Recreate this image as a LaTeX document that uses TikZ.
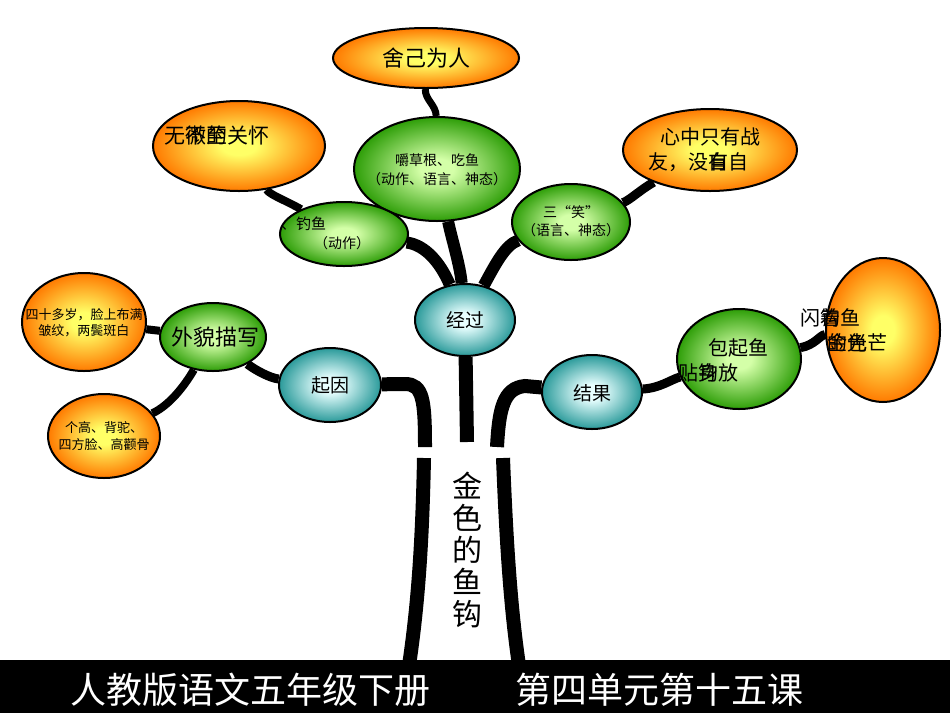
\documentclass[tikz,border=0pt]{standalone}
\usepackage{fontspec}
\newfontfamily\cjk{Noto Sans CJK SC}
\usetikzlibrary{shapes.geometric}
\pgfdeclarelayer{background}
\pgfsetlayers{background,main}
\definecolor{orIn}{HTML}{FFFF66}
\definecolor{orOut}{HTML}{FF7A00}
\definecolor{grIn}{HTML}{D4FFA8}
\definecolor{grOut}{HTML}{2E9E08}
\definecolor{tlIn}{HTML}{E8FFFF}
\definecolor{tlOut}{HTML}{2A9A9A}
\pgfdeclareradialshading{orsh}{\pgfpoint{0bp}{0bp}}{color(0bp)=(orIn); color(5bp)=(orIn); color(25bp)=(orOut); color(50bp)=(orOut)}
\pgfdeclareradialshading{grsh}{\pgfpoint{0bp}{0bp}}{color(0bp)=(grIn); color(5bp)=(grIn); color(25bp)=(grOut); color(50bp)=(grOut)}
\pgfdeclareradialshading{tlsh}{\pgfpoint{0bp}{0bp}}{color(0bp)=(tlIn); color(5bp)=(tlIn); color(25bp)=(tlOut); color(50bp)=(tlOut)}
\newcommand\olap[2]{\makebox[0pt][l]{#1}#2}
\tikzset{
  oval/.style={ellipse, draw=black, line width=2pt, inner sep=0pt},
  orn/.style={oval, shade, shading=orsh},
  grn/.style={oval, shade, shading=grsh},
  tel/.style={oval, shade, shading=tlsh},
  twig/.style={draw=black, line width=9pt},
  limb/.style={draw=black, line width=14pt},
  lbl/.style args={#1/#2}{inner sep=0pt, align=center, font={\cjk\fontsize{#1}{#2}\selectfont}},
}
\begin{document}
\begin{tikzpicture}[x=1pt,y=-1pt]
\useasboundingbox (0,0) rectangle (950,713);
\begin{pgfonlayer}{background}
\fill[white] (0,0) rectangle (950,713);
\end{pgfonlayer}

% ellipses
\node[orn, minimum width=186pt, minimum height=60pt] (sj) at (426,58) {};
\node[grn, minimum width=166pt, minimum height=104pt] (jc) at (437,169) {};
\node[orn, minimum width=172pt, minimum height=90pt] (wh) at (239,146) {};
\node[grn, minimum width=128pt, minimum height=64pt] (dy) at (344,234) {};
\node[grn, minimum width=118pt, minimum height=76pt] (sx) at (571,222) {};
\node[orn, minimum width=174pt, minimum height=82pt] (xz) at (710,150) {};
\node[tel, minimum width=100pt, minimum height=72pt] (jgo) at (465,320) {};
\node[tel, minimum width=102pt, minimum height=74pt] (qy) at (330,385) {};
\node[tel, minimum width=100pt, minimum height=74pt] (jg) at (592,392) {};
\node[grn, minimum width=106pt, minimum height=68pt] (wm) at (213,337) {};
\node[orn, minimum width=124pt, minimum height=98pt] (ss) at (84,322) {};
\node[orn, minimum width=112pt, minimum height=84pt] (gg) at (104,436) {};
\node[grn, minimum width=124pt, minimum height=100pt] (bq) at (739,359) {};
\node[orn, minimum width=114pt, minimum height=144pt] (sg) at (883,330) {};

% connector end points
\coordinate (qyend) at (425,447);
\coordinate (jgend) at (497,447);
\coordinate (jgoend) at (467,442);
\coordinate (ltop) at (424,458);
\coordinate (lbot) at (408,672);
\coordinate (rtop) at (503,458);
\coordinate (rbot) at (520,672);

\begin{pgfonlayer}{background}
\draw[twig, line width=7pt] (sj) .. controls (425,100) and (436,105) .. (jc);
\draw[twig, line width=8pt] (wh) .. controls (270,195) and (285,200) .. (dy);
\draw[twig, line width=12pt] (dy) .. controls (425,245) and (440,262) .. (jgo);
\draw[twig, line width=12pt] (jc) .. controls (452,240) and (460,265) .. (jgo);
\draw[twig, line width=12pt] (sx) .. controls (505,245) and (495,265) .. (jgo);
\draw[twig] (sx) .. controls (630,200) and (640,190) .. (xz);
\draw[twig, line width=8pt] (wm) -- (ss);
\draw[twig, line width=8pt] (wm) .. controls (185,385) and (170,405) .. (gg);
\draw[twig] (wm) .. controls (255,370) and (270,378) .. (qy);
\draw[twig] (jg) .. controls (660,388) and (670,380) .. (bq);
\draw[twig] (bq) .. controls (815,345) and (820,335) .. (sg);
\draw[limb] (qy) -- (405,384) .. controls (423,384) and (425,400) .. (qyend);
\draw[limb] (jg) -- (525,386) .. controls (503,388) and (499,410) .. (jgend);
\draw[limb] (jgo) -- (jgoend);
\draw[limb] (ltop) .. controls (422,560) and (416,620) .. (lbot);
\draw[limb] (rtop) .. controls (507,560) and (512,620) .. (rbot);
\end{pgfonlayer}

% texts
\node[lbl=22/27] (sj-t) at (426,58) {舍己为人};
\node[lbl=14/19] (jc-t) at (437,170) {嚼草根、吃鱼\\（动作、语言、神态）};
\node[lbl=21/25] (wh-t) at (217,135) {无\olap{不}{微}\olap{至}{的}关怀};
\node[lbl=15/18, anchor=west] (dy-t) at (281,224) {、钓鱼};
\node[lbl=14/18] (dy-t2) at (342,243) {（动作）};
\node[lbl=14/18] (sx-t) at (571,221) {三“笑”\\（语言、神态）};
\node[lbl=20/25, anchor=west, align=left] (xz-t) at (648,150) {\hspace*{12pt}心中只有战\\友，没\olap{自}{有}自};
\node[lbl=19/23] (jgo-t) at (465,320) {经过};
\node[lbl=19/23] (qy-t) at (330,385) {起因};
\node[lbl=19/23] (jg-t) at (592,393) {结果};
\node[lbl=22/27] (wm-t) at (215,337) {外貌描写};
\node[lbl=13/16] (ss-t) at (84,323) {四十多岁，脸上布满\\皱纹，两鬓斑白};
\node[lbl=13/17] (gg-t) at (104,436) {个高、背驼、\\四方脸、高颧骨};
\node[lbl=20/25, anchor=west, align=left] (bq-t) at (678,360) {\hspace*{30pt}包起鱼\\贴\olap{身}{钩}放};
\node[lbl=20/25, anchor=west, align=left] (sg-t) at (800,330) {闪\olap{着}{钩}鱼\\\hspace*{27pt}\olap{金}{的}\olap{光}{色}芒};
\node[lbl=30/32] (title) at (467,550) {金\\色\\的\\鱼\\钩};

% bottom bar
\fill[black] (0,660) rectangle (950,713);
\node[lbl=36/40, anchor=west, text=white] (bt1) at (70,690) {人教版语文五年级下册};
\node[lbl=36/40, anchor=west, text=white] (bt2) at (515,690) {第四单元第十五课};
\end{tikzpicture}
\end{document}
